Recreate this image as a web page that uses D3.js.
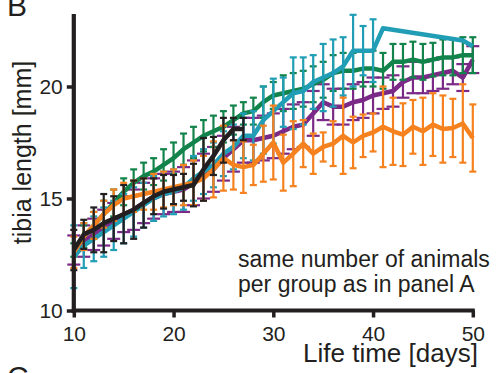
<!DOCTYPE html>
<html lang="en">
<head>
<meta charset="utf-8">
<title>tibia length</title>
<script src="https://cdn.jsdelivr.net/npm/d3@7"></script>
<style>
  body { margin: 0; background: #fff; }
  svg text { font-family: "Liberation Sans", Arial, Helvetica, sans-serif; fill: #231f20; }
</style>
</head>
<body>
<script>
// life time in days (x categories)
var days = [10,11,12,13,14,15,16,17,18,19,20,21,22,23,24,25,26,27,28,29,30,
            31,32,33,34,35,36,37,38,39,40,41,42,43,44,45,46,47,48,49,50];
var xTicks = [10,20,30,40,50];
var yTicks = [10,15,20];

// mean tibia length [mm], one value per day (null = no data)
var green  = [12.7,13.3,13.8,14.3,14.8,15.3,15.7,16.0,16.2,16.5,16.8,17.2,17.5,17.8,18.0,18.2,18.5,18.8,18.9,19.3,19.6,
              19.7,19.8,19.9,20.1,20.3,20.6,20.7,20.7,20.8,20.8,20.7,21.1,21.1,21.2,21.1,21.2,21.3,21.3,21.4,21.4];
var greenErr = [0.3,0.5,0.6,0.6,0.6,0.6,0.6,0.6,0.6,0.7,0.7,0.7,0.7,0.7,0.7,0.7,0.65,0.5,0.6,0.7,0.6,
              0.8,0.8,0.8,0.8,0.8,0.8,0.8,0.8,0.8,0.8,0.8,0.8,0.8,0.8,0.8,0.75,0.8,0.8,0.8,0.8];

var teal   = [12.4,12.9,13.2,13.5,13.8,14.1,14.4,14.7,15.0,15.2,15.3,15.5,15.9,16.2,16.5,17.0,17.3,17.8,17.8,18.5,18.9,
              19.3,19.7,19.8,20.2,20.4,20.6,20.9,21.6,21.6,21.6,22.6,null,null,null,null,null,null,null,22.05,21.8];
var tealErr = [1.4,1.0,1.0,1.1,1.1,1.1,1.1,1.0,1.0,1.0,1.0,1.0,1.0,1.0,1.0,1.0,1.0,1.0,1.1,1.5,1.45,
              1.1,1.6,1.5,1.2,1.5,1.5,1.3,1.6,1.1,1.4,null,null,null,null,null,null,null,null,null,null];

var purple = [12.7,13.1,13.4,13.7,14.0,14.3,14.5,14.8,15.0,15.2,15.3,15.4,15.7,16.0,16.3,16.8,17.2,17.6,17.6,17.7,17.8,
              18.0,18.2,18.3,18.8,19.3,19.1,19.1,19.3,19.4,19.6,19.7,19.8,20.2,20.4,20.4,20.5,20.6,20.7,20.4,21.2];
var purpleErr = [0.65,0.7,0.7,0.8,0.8,0.8,0.9,0.9,0.9,0.9,0.9,1.0,1.0,1.0,1.0,1.0,1.0,1.0,1.0,1.0,1.0,
              1.0,1.0,1.0,1.0,0.8,0.8,0.8,0.8,0.8,0.8,0.7,0.7,0.7,0.7,0.7,0.7,0.7,0.6,0.6,0.6];

var orange = [12.6,13.3,13.8,14.3,14.7,15.0,15.1,15.2,15.3,15.4,15.5,15.6,15.7,15.9,16.3,16.8,16.5,16.4,16.5,17.0,17.5,
              16.6,17.0,17.45,17.0,17.3,17.45,17.8,17.5,17.8,17.95,18.2,18.0,17.85,18.2,18.0,18.3,18.1,18.15,18.35,17.7];
var orangeErr = [0.7,0.6,0.6,0.6,0.7,0.7,0.7,0.7,0.8,0.8,0.8,0.9,1.0,1.0,1.25,1.45,1.1,1.15,0.9,1.25,1.65,
              1.25,1.45,1.05,0.9,0.65,1.0,1.7,1.15,0.95,0.85,1.8,1.5,1.4,1.2,1.5,1.4,1.5,1.3,1.75,1.5];

var black  = [12.7,13.4,13.6,13.9,14.1,14.3,14.5,14.8,15.1,15.3,15.4,15.5,15.6,16.3,16.9,17.6,18.1,18.1,
              null,null,null,null,null,null,null,null,null,null,null,null,null,null,null,null,null,null,null,null,null,null,null];
var blackErr = [0.9,0.65,1.0,1.3,1.0,1.3,1.3,1.1,0.8,0.75,0.65,0.6,0.95,1.4,0.85,1.0,0.5,0.5,
              null,null,null,null,null,null,null,null,null,null,null,null,null,null,null,null,null,null,null,null,null,null,null];

var series = [
  {name: "purple", values: purple, err: purpleErr, color: "#7a2a86", cap: 6.5},
  {name: "green",  values: green,  err: greenErr,  color: "#12834a", cap: 3.5},
  {name: "teal",   values: teal,   err: tealErr,   color: "#219eb6", cap: 3.5},
  {name: "orange", values: orange, err: orangeErr, color: "#f5821f", cap: 3.5},
  {name: "black",  values: black,  err: blackErr,  color: "#231f20", cap: 3.5}
];

var w = 501, h = 373;
var svg = d3.select("body").append("svg").attr("width", w).attr("height", h);

var x = d3.scaleLinear().domain([10, 50]).range([73.8, 472.8]);
var y = d3.scaleLinear().domain([10, 20]).range([310.5, 86.5]);

// series: error bars then line
series.forEach(function(s) {
  var pts = days.map(function(d, i) { return {d: d, v: s.values[i], e: s.err[i]}; })
                .filter(function(p) { return p.v != null; });
  var g = svg.append("g").attr("class", "series-" + s.name);

  var bars = g.selectAll("g.eb").data(pts.filter(function(p) { return p.e != null; }))
    .enter().append("g").attr("class", "eb")
    .attr("stroke", s.color).attr("stroke-width", 2.2);
  bars.append("line")
    .attr("x1", function(p) { return x(p.d); }).attr("x2", function(p) { return x(p.d); })
    .attr("y1", function(p) { return y(p.v + p.e); }).attr("y2", function(p) { return y(p.v - p.e); });
  bars.append("line")
    .attr("x1", function(p) { return x(p.d) - s.cap; }).attr("x2", function(p) { return x(p.d) + s.cap; })
    .attr("y1", function(p) { return y(p.v + p.e); }).attr("y2", function(p) { return y(p.v + p.e); });
  bars.append("line")
    .attr("x1", function(p) { return x(p.d) - s.cap; }).attr("x2", function(p) { return x(p.d) + s.cap; })
    .attr("y1", function(p) { return y(p.v - p.e); }).attr("y2", function(p) { return y(p.v - p.e); });

  g.append("path")
    .datum(pts)
    .attr("fill", "none")
    .attr("stroke", s.color)
    .attr("stroke-width", 4.5)
    .attr("stroke-linejoin", "round")
    .attr("d", d3.line().x(function(p) { return x(p.d); }).y(function(p) { return y(p.v); }));
});

// axes
var yAxis = svg.append("g")
  .attr("transform", "translate(73.8,0)")
  .call(d3.axisLeft(y).tickValues(yTicks).tickSize(7).tickSizeOuter(0).tickPadding(4));
yAxis.select(".domain").attr("d", "M0," + 14 + "V" + 312.5);

var xAxis = svg.append("g")
  .attr("transform", "translate(0,310.5)")
  .call(d3.axisBottom(x).tickValues(xTicks).tickSize(7).tickSizeOuter(0).tickPadding(9));
xAxis.select(".domain").attr("d", "M71.8,0H474.8");

svg.selectAll(".domain").attr("stroke", "#231f20").attr("stroke-width", 4.2);
svg.selectAll(".tick line").attr("stroke", "#231f20").attr("stroke-width", 3.5);
svg.selectAll(".tick text").attr("font-size", 21).attr("fill", "#231f20")
   .style("font-family", "'Liberation Sans', Arial, sans-serif");

// titles
svg.append("text")
  .attr("transform", "translate(31,152.5) rotate(-90)")
  .attr("text-anchor", "middle")
  .attr("font-size", 25)
  .text("tibia length [mm]");

svg.append("text")
  .attr("x", 390.5).attr("y", 362)
  .attr("text-anchor", "middle")
  .attr("font-size", 26)
  .text("Life time [days]");

svg.append("text").attr("x", 238).attr("y", 267).attr("font-size", 23)
  .text("same number of animals");
svg.append("text").attr("x", 238).attr("y", 292).attr("font-size", 23)
  .text("per group as in panel A");

// panel letters
svg.append("text").attr("x", 7).attr("y", 16).attr("font-size", 30).text("B");
svg.append("text").attr("x", 7).attr("y", 387).attr("font-size", 30).text("C");
</script>
</body>
</html>
